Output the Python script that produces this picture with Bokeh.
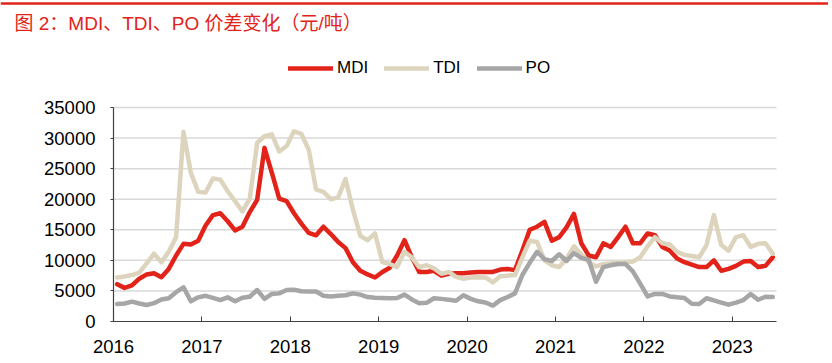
import numpy as np
from bokeh.plotting import figure
from bokeh.models import Legend, LegendItem, Label, FixedTicker, Range1d, Span
from bokeh.embed import file_html
from bokeh.resources import INLINE

title_text = "图 2：MDI、TDI、PO 价差变化（元/吨）"
years = ["2016", "2017", "2018", "2019", "2020", "2021", "2022", "2023"]
series_names = ["MDI", "TDI", "PO"]
y_ticks = [0, 5000, 10000, 15000, 20000, 25000, 30000, 35000]

# monthly spreads, Jan 2016 .. Jun 2023 (yuan/ton)
mdi = [6100, 5500, 5900, 7000, 7700, 7900, 7250, 8600, 10800, 12700, 12600, 13200,
       15700, 17400, 17700, 16400, 14900, 15500, 17900, 19900, 28400, 24300, 20100, 19700,
       17700, 16000, 14500, 14100, 15500, 14300, 13000, 12000, 9700, 8300, 7700, 7200,
       8100, 8800, 10800, 13300, 10500, 8100, 8100, 8300, 7500, 7800, 7900, 7900,
       8000, 8100, 8100, 8100, 8500, 8600, 8400, 11600, 15000, 15500, 16300, 13200,
       13800, 15400, 17600, 12800, 10800, 10500, 12800, 12200, 13800, 15500, 12800, 12800,
       14400, 14100, 12200, 11600, 10300, 9700, 9300, 8900, 8900, 10000, 8300, 8600,
       9100, 9800, 9900, 8900, 9100, 10500]
tdi = [7200, 7350, 7600, 8000, 9500, 11100, 9700, 11400, 13800, 31000, 24300, 21200,
       21100, 23400, 23200, 21300, 19700, 18000, 20100, 29200, 30300, 30600, 27800, 28700,
       31100, 30700, 28100, 21600, 21200, 20000, 20300, 23300, 18300, 14000, 13300, 14400,
       9700, 9400, 8900, 11400, 10500, 8900, 9200, 8700, 7800, 8100, 7300, 7000,
       7200, 7250, 7200, 6400, 7400, 7500, 7600, 10500, 13200, 13000, 10000, 9200,
       8900, 10300, 12300, 11000, 9700, 9000, 9400, 9500, 9600, 9700, 9800, 10500,
       12300, 13800, 12800, 12600, 11400, 10900, 10700, 10500, 12500, 17400, 12500, 11600,
       13800, 14100, 12200, 12700, 12800, 11100]
po = [2850, 2950, 3250, 2950, 2700, 3000, 3600, 3800, 4800, 5600, 3300, 3950,
      4200, 3850, 3500, 3950, 3300, 3900, 4050, 5150, 3700, 4500, 4600, 5150,
      5200, 4950, 4900, 4900, 4200, 4100, 4200, 4300, 4600, 4400, 4000, 3900,
      3850, 3800, 3850, 4400, 3600, 3000, 3050, 3800, 3700, 3550, 3400, 4300,
      3700, 3300, 3100, 2600, 3500, 4000, 4600, 7600, 9600, 11400, 10200, 9900,
      11000, 9900, 11200, 10400, 10100, 6500, 8900, 9200, 9400, 9400, 8200, 6200,
      4100, 4500, 4500, 4100, 3950, 3850, 2900, 2850, 3800, 3450, 3100, 2750,
      3100, 3500, 4500, 3550, 4050, 4000]

colors = ["#E2231A", "#DDD4BE", "#A6A6A6"]
FONT = "Liberation Sans, Noto Sans CJK SC"

months = np.arange(len(mdi)) + 0.5
n_months = 12 * (len(years) - 1) + 6

# Canvas is the whole frame so the title, legend and top rule are not clipped;
# axes sit at fixed data locations inside it.
W, H = 828, 360
px_per_month = 663 / n_months
px_per_unit = 214 / y_ticks[-1]
x_lo = -113 / px_per_month
x_hi = x_lo + W / px_per_month
y_hi = 321 / px_per_unit
y_lo = y_hi - H / px_per_unit

p = figure(width=W, height=H, x_range=Range1d(x_lo, x_hi), y_range=Range1d(y_lo, y_hi),
           min_border=0, toolbar_location=None, output_backend="svg")
p.outline_line_color = None
p.background_fill_color = "white"
p.border_fill_color = "white"
p.grid.visible = False

# horizontal gridlines across the plot area only
p.segment(x0=0, x1=n_months, y0=y_ticks[1:], y1=y_ticks[1:],
          line_color="#D9D9D9", line_width=1.5)

year_pos = [12 * i for i in range(len(years))]
p.xaxis.ticker = FixedTicker(ticks=year_pos)
p.xaxis.major_label_overrides = {pos: lab for pos, lab in zip(year_pos, years)}
p.yaxis.ticker = FixedTicker(ticks=y_ticks)
p.xaxis.fixed_location = 0
p.yaxis.fixed_location = 0
p.xaxis.bounds = (0, n_months)
p.yaxis.bounds = (y_ticks[0], y_ticks[-1])

for ax in (p.xaxis[0], p.yaxis[0]):
    ax.axis_line_color = "#404040"
    ax.axis_line_width = 1.2
    ax.major_tick_line_color = "#404040"
    ax.minor_tick_line_color = None
    ax.major_label_text_font = FONT
    ax.major_label_text_font_size = "18.5px"
    ax.major_label_text_color = "black"
p.xaxis.major_tick_in = 5
p.xaxis.major_tick_out = 0
p.xaxis.major_label_standoff = 18
p.yaxis.major_tick_in = 0
p.yaxis.major_tick_out = 3
p.yaxis.major_label_standoff = 15

renderers = []
for name, vals, col in zip(series_names, [mdi, tdi, po], colors):
    r = p.line(months, vals, line_color=col, line_width=4.5,
               line_join="round", line_cap="round")
    renderers.append(r)

legend = Legend(items=[LegendItem(label=n, renderers=[r]) for n, r in zip(series_names, renderers)],
                orientation="horizontal", location=(288, H - 78),
                glyph_width=45, glyph_height=20, label_height=20, label_standoff=4,
                spacing=16, padding=0, margin=0,
                border_line_color=None, background_fill_alpha=0,
                label_text_font=FONT, label_text_font_size="17px", label_text_color="black")
p.add_layout(legend)

# red rule along the top and the red caption
p.add_layout(Span(location=y_hi - 3 / px_per_unit, dimension="width",
                  line_color="#E2231A", line_width=2.5))
title = Label(x=x_lo + 14 / px_per_month, y=y_hi - 22.7 / px_per_unit, text=title_text,
              text_font=FONT, text_font_size="19px", text_color="#E2231A",
              text_baseline="middle", text_align="left")
p.add_layout(title)

open("out.html", "w").write(file_html(p, INLINE))
